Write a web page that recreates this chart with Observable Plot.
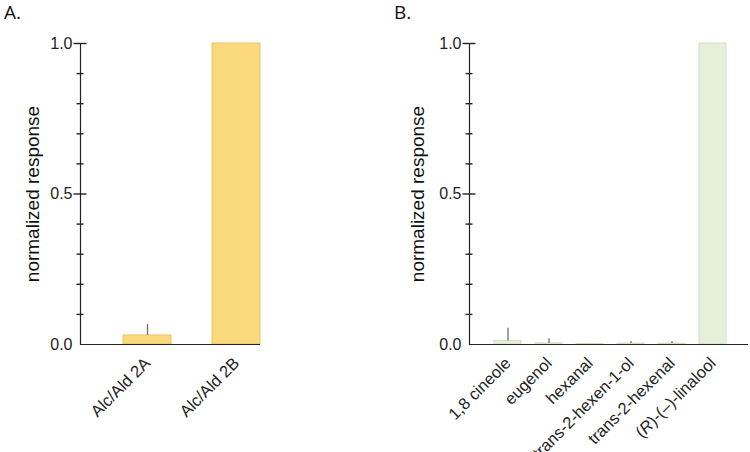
<!DOCTYPE html>
<html>
<head>
<meta charset="utf-8">
<script src="https://cdn.jsdelivr.net/npm/d3@7"></script>
<script src="https://cdn.jsdelivr.net/npm/@observablehq/plot@0.6"></script>
<style>
  html, body { margin: 0; padding: 0; background: #fff; }
  #wrap { position: relative; width: 750px; height: 452px; display: flex; }
  .plabel { position: absolute; font-family: "Open Sans", sans-serif; font-size: 19px; color: #111; line-height: 1; }
</style>
</head>
<body>
<div id="wrap">
  <div class="plabel" style="left:4px; top:3px;">A.</div>
  <div class="plabel" style="left:394px; top:3px;">B.</div>
</div>
<script>
// Panel A data
const aNames = ["Alc/Ald 2A", "Alc/Ald 2B"];
const aValues = [0.03, 1.0];
const aUpper = [0.066, null];

// Panel B data
const bNames = ["1,8 cineole", "eugenol", "hexanal", "trans-2-hexen-1-ol", "trans-2-hexenal", "(R)-(–)-linalool"];
const bValues = [0.012, 0.004, 0.002, 0.003, 0.003, 1.0];
const bUpper = [0.054, 0.019, null, 0.010, 0.010, null];

// y ticks
const majorTicks = [0.5, 1.0];
const minorTicks = [0.1, 0.2, 0.3, 0.4, 0.6, 0.7, 0.8, 0.9];
const labelTicks = [0, 0.5, 1.0];

const font = "'Liberation Sans', Arial, sans-serif";

function panel({names, values, upper, width, marginLeft, marginRight, fill, stroke, paddingInner, paddingOuter, align, labelDx}) {
  const data = names.map((n, i) => ({name: n, value: values[i], upper: upper[i]}));
  const svg = Plot.plot({
    width,
    height: 452,
    marginLeft,
    marginRight,
    marginTop: 43,
    marginBottom: 108,
    style: {fontFamily: font, fontSize: "16px", color: "#222", background: "transparent", overflow: "visible"},
    x: {domain: names, paddingInner, paddingOuter, align, label: null},
    y: {domain: [0, 1], label: null},
    marks: [
      Plot.barY(data, {x: "name", y: "value", fill, stroke, strokeWidth: 1}),
      Plot.ruleX(data.filter(d => d.upper != null), {x: "name", y1: "value", y2: "upper", stroke: "#6e6e6e", strokeWidth: 1.3}),
      Plot.ruleY([0], {strokeWidth: 1.2}),
      Plot.frame({anchor: "left", strokeWidth: 1.2}),
      Plot.axisY({ticks: majorTicks, tickSize: 13, dx: 6.5, tickFormat: () => "", strokeWidth: 1.4, label: null}),
      Plot.axisY({ticks: minorTicks, tickSize: 7, dx: 3.5, tickFormat: () => "", strokeWidth: 1.4, label: null}),
      Plot.axisY({ticks: labelTicks, tickFormat: d3.format(".1f"), tickSize: 0, tickPadding: 8, fontSize: 16, label: null}),
      Plot.axisX({tickRotate: -45, tickSize: 0, tickPadding: 16, fontSize: 16.5, label: null}),
      Plot.text(["normalized response"], {frameAnchor: "left", dx: labelDx, rotate: -90, textAnchor: "middle", fontSize: 19, fill: "#111"})
    ]
  });
  // italic R in linalool label
  d3.select(svg).selectAll("text").each(function() {
    if (this.textContent === "(R)-(–)-linalool") {
      const t = d3.select(this);
      t.text(null);
      t.append("tspan").text("(");
      t.append("tspan").attr("font-style", "italic").text("R");
      t.append("tspan").text(")-(–)-linalool");
    }
  });
  return svg;
}

const wrap = document.getElementById("wrap");
wrap.appendChild(panel({
  names: aNames, values: aValues, upper: aUpper,
  width: 375, marginLeft: 80, marginRight: 115,
  fill: "#F9D97B", stroke: "#E8C567",
  paddingInner: 0.46, paddingOuter: 0.235, align: 1, labelDx: -48
}));
wrap.appendChild(panel({
  names: bNames, values: bValues, upper: bUpper,
  width: 375, marginLeft: 94, marginRight: 2,
  fill: "#E5EFDA", stroke: "#D2E0C2",
  paddingInner: 0.345, paddingOuter: 0.558, align: 0.54, labelDx: -52
}));
</script>
</body>
</html>
